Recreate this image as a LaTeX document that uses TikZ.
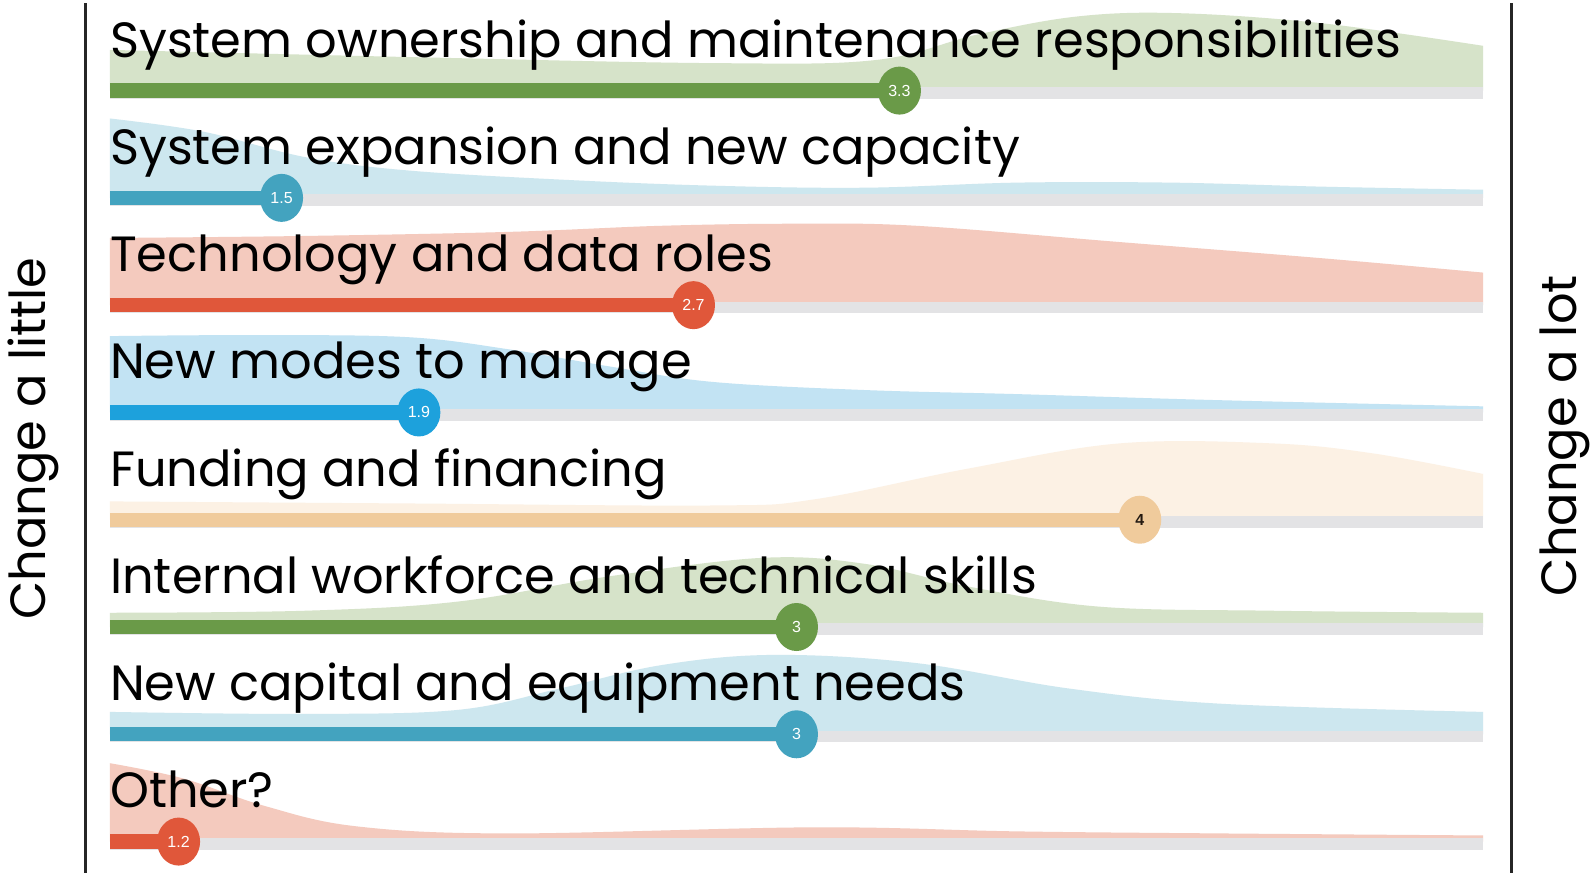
\documentclass[tikz,border=0pt]{standalone}
\usepackage{fontspec}
\setmainfont{Poppins}
\newfontfamily\numfont{Liberation Sans}
\definecolor{gA}{HTML}{6A9A48}\definecolor{gAl}{HTML}{D6E3C9}
\definecolor{tB}{HTML}{43A3BF}\definecolor{tBl}{HTML}{CDE7EF}
\definecolor{rC}{HTML}{E0573A}\definecolor{rCl}{HTML}{F4CABE}
\definecolor{bD}{HTML}{1DA1DC}\definecolor{bDl}{HTML}{C2E3F3}
\definecolor{pE}{HTML}{F0CB9C}\definecolor{pEl}{HTML}{FCF1E4}
\definecolor{grayBar}{HTML}{E3E3E5}
\tikzset{
  lbl/.style={anchor=base west, inner sep=0pt, font=\fontsize{49.5}{49.5}\selectfont, text=black},
  side/.style={inner sep=0pt, font=\fontsize{49.5}{49.5}\selectfont, rotate=90},
  val/.style={ellipse, inner sep=0pt, minimum width=43pt, minimum height=48pt, text=white, font=\numfont\fontsize{16}{16}\selectfont},
}
\usetikzlibrary{shapes.geometric}
\begin{document}
\begin{tikzpicture}[x=1.0179pt,y=-1.0179pt]
\useasboundingbox (0,0) rectangle (1568,861);
\fill[white] (0,0) rectangle (1568,861);
% generic row drawing
\newcommand{\rowbar}[7]{% #1 center y, #2 light col, #3 col, #4 curve, #5 value, #6 label, #7 name
  \begin{scope}[shift={(0,#1)}]
    \fill[#2] (108,0) -- plot[smooth,tension=0.6] coordinates {#4} -- (1457,0) -- cycle;
    \fill[grayBar] (108,-3.5) rectangle (1457,8);
    \fill[#3] (108,-7) rectangle ({108+(#5-1)*337.25},7);
    \node[val, fill=#3] (#7) at ({108+(#5-1)*337.25},0) {#5};
    \node[lbl] (#7l) at (108,-33) {#6};
  \end{scope}}
\rowbar{89}{gAl}{gA}{(108,-40)(400,-33)(700,-27)(860,-30)(960,-55)(1060,-73)(1160,-76)(1300,-66)(1457,-44)}{3.3}{System ownership and maintenance responsibilities}{r1}
\rowbar{194.4}{tBl}{tB}{(108,-78)(200,-65)(300,-40)(400,-27)(550,-18)(700,-12)(850,-10)(1000,-15)(1150,-15)(1300,-11)(1457,-8)}{1.5}{System expansion and new capacity}{r2}
\rowbar{299.8}{rCl}{rC}{(108,-66)(300,-68)(500,-72)(650,-78)(780,-80)(900,-78)(1100,-62)(1300,-46)(1457,-32)}{2.7}{Technology and data roles}{r3}
\rowbar{405.2}{bDl}{bD}{(108,-75)(250,-76)(400,-74)(500,-62)(600,-45)(700,-30)(850,-22)(1000,-18)(1200,-12)(1457,-6)}{1.9}{New modes to manage}{r4}
\rowbar{510.6}{pEl}{pE}{(108,-18)(400,-16)(700,-14)(800,-20)(950,-50)(1100,-75)(1250,-75)(1350,-65)(1457,-45)}{4}{Funding and financing}{r5}
\rowbar{616}{gAl}{gA}{(108,-14)(300,-16)(450,-25)(600,-50)(750,-68)(850,-62)(950,-40)(1080,-20)(1250,-16)(1457,-14)}{3}{Internal workforce and technical skills}{r6}
\rowbar{721.4}{tBl}{tB}{(108,-22)(300,-20)(450,-24)(550,-45)(650,-68)(760,-78)(900,-70)(1050,-45)(1200,-30)(1457,-22)}{3}{New capital and equipment needs}{r7}
\rowbar{826.8}{rCl}{rC}{(108,-77)(180,-62)(260,-35)(350,-15)(500,-8)(800,-14)(1000,-10)(1200,-8)(1457,-6)}{1.2}{Other?}{r8}
\node[text=black!80!brown, font=\numfont\bfseries\fontsize{16}{16}\selectfont] at (r5) {4};
\coordinate (lt) at (84,3); \coordinate (lb) at (84,858);
\coordinate (rt) at (1485,3); \coordinate (rb) at (1485,858);
\draw[line width=3pt, black!85] (lt) -- (lb);
\draw[line width=3pt, black!85] (rt) -- (rb);
\node[side] (cl) at (33,431) {Change a little};
\node[side] (cm) at (1537,428) {Change a lot};
\end{tikzpicture}
\end{document}
